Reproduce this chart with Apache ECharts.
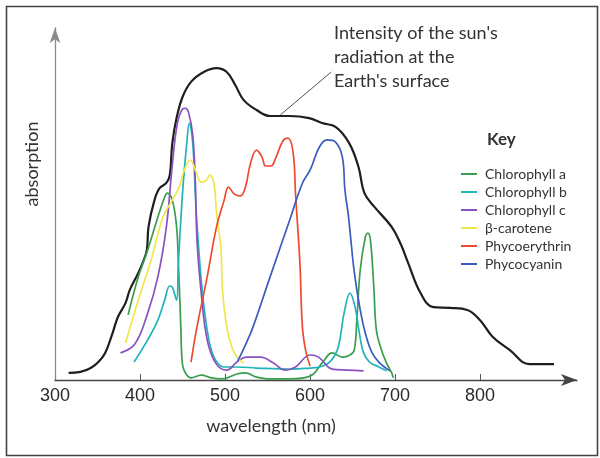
<!DOCTYPE html>
<html>
<head>
<meta charset="utf-8">
<script src="https://cdn.jsdelivr.net/npm/echarts@6/dist/echarts.min.js"></script>
<style>
html,body{margin:0;padding:0;background:#fff;}
#c{width:600px;height:458px;}
</style>
</head>
<body>
<div id="c"></div>
<script>
// wavelength (nm), relative absorption / intensity (0-100)
const xTickLabels = [300, 400, 500, 600, 700, 800];
const seriesNames = ['Chlorophyll a', 'Chlorophyll b', 'Chlorophyll c', 'β-carotene', 'Phycoerythrin', 'Phycocyanin'];
const seriesColors = ['#3a9e4f', '#22b3b8', '#8a52c0', '#f1e64c', '#ee4a30', '#3b5cbf'];

const sunIntensity = [[316,2.0],[330,2.3],[342,3.4],[351,5.1],[359,7.7],[367,12.8],[374,17.9],[383,21.9],[388,25.6],[398,30.4],[403,33.2],[408,36.9],[410,43.5],[417,51.1],[423,54.5],[431,56.0],[435,58.2],[438,67.3],[443,74.4],[450,80.4],[460,84.7],[475,87.5],[490,88.6],[502,87.5],[512,83.8],[522,79.5],[537,76.7],[553,75.0],[576,75.0],[599,74.4],[614,73.0],[630,71.9],[646,67.3],[657,60.5],[664,53.1],[676,49.1],[696,43.5],[707,38.4],[715,33.5],[730,24.7],[745,20.7],[765,20.5],[785,19.9],[800,17.0],[815,12.2],[835,8.5],[858,4.5],[887,4.5]];

const chlorophyllA = [[386,18.5],[398,29.3],[409,36.9],[421,46.3],[429,52.0],[432,53.1],[438,51.1],[443,43.5],[445,34.1],[448,15.1],[450,4.3],[455,1.4],[460,0.6],[472,1.4],[484,0.6],[496,0.3],[514,1.7],[524,2.0],[536,0.9],[553,0.3],[576,0.3],[600,1.1],[615,5.1],[626,7.7],[638,6.5],[647,7.1],[652,8.5],[655,17.0],[659,31.2],[665,40.6],[668,41.7],[671,39.8],[675,26.4],[678,14.2],[684,8.5],[690,4.8],[696,2.0],[698,0.6]];

const chlorophyllB = [[393,5.1],[409,11.4],[421,17.0],[429,22.7],[435,26.7],[438,26.4],[443,22.7],[445,32.7],[450,53.1],[455,67.3],[458,73.0],[462,67.3],[466,48.3],[472,28.4],[479,14.2],[487,6.5],[499,3.7],[514,3.7],[537,3.4],[576,3.1],[600,3.4],[611,3.7],[623,5.1],[632,8.5],[636,12.8],[640,19.0],[647,24.7],[653,20.7],[658,13.3],[663,7.7],[670,5.1],[681,3.7],[690,2.6]];

const chlorophyllC = [[377,7.7],[394,10.2],[409,19.0],[421,29.3],[431,43.5],[438,61.1],[444,73.0],[450,77.0],[453,77.2],[457,76.1],[462,69.6],[465,56.8],[467,39.8],[472,24.7],[479,11.4],[489,4.8],[502,2.8],[514,5.1],[525,6.5],[542,6.5],[557,4.8],[571,2.8],[583,3.7],[600,7.1],[610,6.5],[626,3.1],[644,2.8],[663,2.6]];

const betaCarotene = [[383,10.5],[398,22.7],[414,34.9],[427,46.3],[438,51.1],[446,54.8],[452,59.6],[459,62.5],[466,59.1],[472,56.2],[478,56.8],[482,58.2],[487,55.7],[490,47.4],[495,37.8],[497,25.6],[502,15.1],[508,9.4],[514,6.5],[522,4.8]];

const phycoerythrin = [[460,5.1],[467,15.1],[479,29.3],[490,43.5],[499,51.1],[504,54.8],[511,52.8],[518,52.3],[524,54.8],[530,61.6],[537,65.3],[543,63.6],[548,60.8],[554,60.8],[560,63.3],[568,67.9],[574,68.7],[580,64.8],[583,52.5],[588,33.5],[591,15.1],[595,8.2],[600,4.0]];

const phycocyanin = [[515,5.4],[525,10.5],[533,15.1],[553,29.3],[576,45.4],[591,55.9],[600,59.6],[611,66.2],[620,68.2],[630,67.6],[638,63.3],[641,54.0],[645,46.9],[648,39.8],[652,30.7],[658,21.3],[665,13.3],[673,7.7],[682,4.8],[694,2.6]];

const leaderLine = [[565, 75.3], [625, 87.5]];
const annotationLines = ["Intensity of the sun's", 'radiation at the', "Earth's surface"];

const pigmentData = [chlorophyllA, chlorophyllB, chlorophyllC, betaCarotene, phycoerythrin, phycocyanin];

const chart = echarts.init(document.getElementById('c'), null, {renderer: 'canvas'});

const series = [{
  name: 'Sun',
  type: 'line',
  data: sunIntensity,
  showSymbol: false,
  smooth: 0.4,
  lineStyle: {color: '#1e1e1e', width: 2.2},
  itemStyle: {color: '#1e1e1e'},
  z: 2,
  silent: true,
  markLine: {
    silent: true,
    symbol: ['none', 'none'],
    label: {show: false},
    lineStyle: {color: '#555', width: 1, type: 'solid'},
    data: [[{coord: leaderLine[0]}, {coord: leaderLine[1]}]]
  }
}];
pigmentData.forEach((d, i) => {
  series.push({
    name: seriesNames[i],
    type: 'line',
    data: d,
    showSymbol: false,
    smooth: 0.4,
    lineStyle: {color: seriesColors[i], width: 1.7},
    itemStyle: {color: seriesColors[i]},
    z: 3
  });
});

const option = {
  animation: false,
  backgroundColor: '#fff',
  grid: {left: 55, right: 23, top: 28, bottom: 78, containLabel: false},
  xAxis: {
    type: 'value',
    min: 300,
    max: 914,
    interval: 100,
    name: 'wavelength (nm)',
    nameLocation: 'middle',
    nameGap: 37,
    nameTextStyle: {fontFamily: 'Lato', fontSize: 18, color: '#333', padding: [0, 90, 0, 0]},
    axisLine: {show: true, lineStyle: {color: '#444', width: 1.3}, symbol: ['none', 'arrow'], symbolSize: [9, 16]},
    axisTick: {show: true, inside: true, length: 6, lineStyle: {color: '#555'}, customValues: [400, 500, 600, 700, 800]},
    axisLabel: {fontFamily: 'Liberation Sans', fontSize: 18, color: '#2a2a2a', margin: 7, customValues: xTickLabels},
    splitLine: {show: false}
  },
  yAxis: {
    type: 'value',
    min: 0,
    max: 100,
    name: 'absorption',
    nameLocation: 'middle',
    nameGap: 14,
    nameRotate: 90,
    nameTextStyle: {fontFamily: 'Lato', fontSize: 18, color: '#333', padding: [0, 0, 0, 80]},
    axisLine: {show: true, lineStyle: {color: '#8a8a8a', width: 1.3}, symbol: ['none', 'arrow'], symbolSize: [8, 15]},
    axisTick: {show: false},
    axisLabel: {show: false},
    splitLine: {show: false}
  },
  legend: {
    data: seriesNames,
    orient: 'vertical',
    left: 456,
    top: 162,
    icon: 'rect',
    itemWidth: 16,
    itemHeight: 2,
    itemGap: 4,
    textStyle: {fontFamily: 'Lato', fontSize: 14, color: '#333', lineHeight: 14, padding: [0, 0, 0, 3]}
  },
  graphic: [
    {type: 'rect', left: 4, top: 4, shape: {width: 591, height: 449}, style: {fill: 'none', stroke: '#444', lineWidth: 1.6}, silent: true},
    {type: 'text', left: 487, top: 131, style: {text: 'Key', fontFamily: 'Lato', fontWeight: 'bold', fontSize: 17, fill: '#333'}},
    {type: 'text', left: 334, top: 21, style: {text: annotationLines.join('\n'), fontFamily: 'Lato', fontSize: 18, lineHeight: 24, fill: '#333'}}
  ],
  series: series
};
chart.setOption(option);
</script>
</body>
</html>
